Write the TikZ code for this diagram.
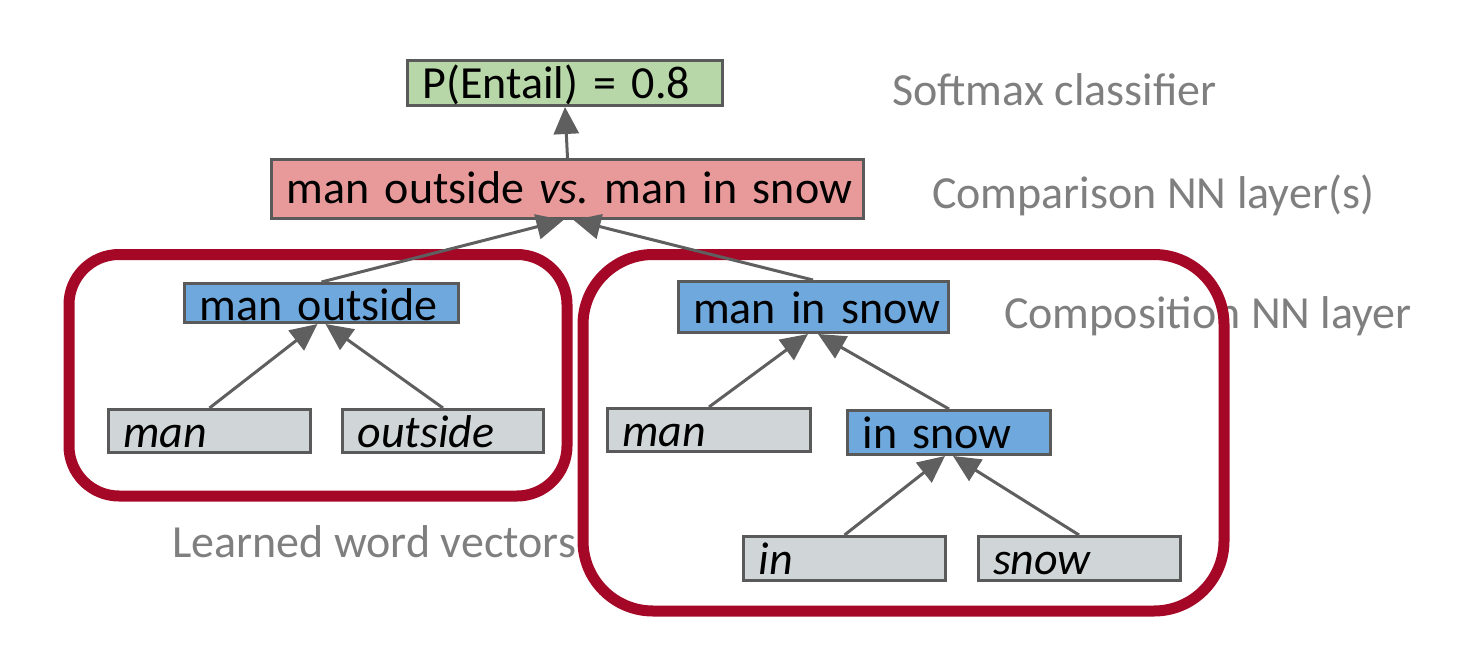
\documentclass[tikz,border=0pt]{standalone}
\usepackage{fontspec}
\setmainfont{Carlito}
\usetikzlibrary{arrows.meta}
\definecolor{bordergrey}{HTML}{5A5A5A}
\definecolor{arrgrey}{HTML}{5F5F5F}
\definecolor{labgrey}{HTML}{7F7F7F}
\definecolor{gfill}{HTML}{B8D7A8}
\definecolor{rfill}{HTML}{E8999A}
\definecolor{bfill}{HTML}{6FA8DC}
\definecolor{wfill}{HTML}{D0D6D7}
\definecolor{framered}{HTML}{A50726}
\begin{document}
\begin{tikzpicture}[x=1pt,y=-1pt,
  bigfont/.style={font=\fontsize{46}{50}\selectfont},
  box/.style={draw=bordergrey, line width=3pt, inner xsep=15pt, inner ysep=0pt,
    text height=32pt, text depth=0pt, align=left, bigfont},
  greenbox/.style={box, fill=gfill},
  redbox/.style={box, fill=rfill, align=center, text height=28pt},
  bluebox/.style={box, fill=bfill},
  wordbox/.style={box, fill=wfill, font=\fontsize{46}{50}\selectfont\itshape},
  lab/.style={bigfont, text=labgrey, anchor=base west, inner sep=0pt},
  frame/.style={draw=framered, line width=11pt},
  arr/.style={draw=arrgrey, line width=3pt, -{Triangle[length=27pt,width=25pt]}}]
\useasboundingbox (0,0) rectangle (1458,658);
% labels
\node[lab] (lsoft) at (892,106) {Softmax classifier};
\node[lab] (lcomp) at (932,208) {Comparison NN layer(s)};
\node[lab] (lcompo) at (1004,328) {Composition NN layer};
\node[lab] (lword) at (172,557) {Learned word vectors};
% frames
\draw[frame, rounded corners=50pt] (69,254.5) rectangle (567,496);
\draw[frame, rounded corners=70pt] (583,254.5) rectangle (1224,611);
% boxes
\node[greenbox, minimum width=315pt, minimum height=45pt, text width=285pt] (green) at (565,83) {\mbox{P(Entail) = 0.8}};
\node[redbox, minimum width=592pt, minimum height=59pt, text width=562pt] (red) at (567.5,189) {\mbox{man outside {\itshape vs.}\ man in snow}};
\node[bluebox, minimum width=274pt, minimum height=39pt, text width=244pt, text height=34pt] (mo) at (321.5,303) {\mbox{man outside}};
\node[bluebox, minimum width=270pt, minimum height=51pt, text width=240pt] (mis) at (813,307) {\mbox{man in snow}};
\node[wordbox, minimum width=202pt, minimum height=43pt, text width=172pt] (man1) at (209.5,431) {\mbox{man}};
\node[wordbox, minimum width=201pt, minimum height=43pt, text width=171pt] (outside) at (443,431) {\mbox{outside}};
\node[wordbox, minimum width=203pt, minimum height=43pt, text width=173pt] (man2) at (709,430) {\mbox{man}};
\node[bluebox, minimum width=203pt, minimum height=44pt, text width=173pt] (insnow) at (949,432.5) {\mbox{in snow}};
\node[wordbox, minimum width=202pt, minimum height=44pt, text width=172pt] (in) at (844.5,558.5) {\mbox{in}};
\node[wordbox, minimum width=202pt, minimum height=44pt, text width=172pt] (snow) at (1079,558.5) {\mbox{snow}};
% arrows
\draw[arr] (red.north) -- (green.south);
\draw[arr] (mo.north) -- ([xshift=-4pt]red.south);
\draw[arr] (mis.north) -- ([xshift=6pt]red.south);
\draw[arr] (man1.north) -- ([xshift=-4pt]mo.south);
\draw[arr] (outside.north) -- ([xshift=4pt]mo.south);
\draw[arr] (man2.north) -- ([xshift=-5pt]mis.south);
\draw[arr] (insnow.north) -- ([xshift=5pt]mis.south);
\draw[arr] (in.north) -- ([xshift=-4pt]insnow.south);
\draw[arr] (snow.north) -- ([xshift=4pt]insnow.south);
\end{tikzpicture}
\end{document}
